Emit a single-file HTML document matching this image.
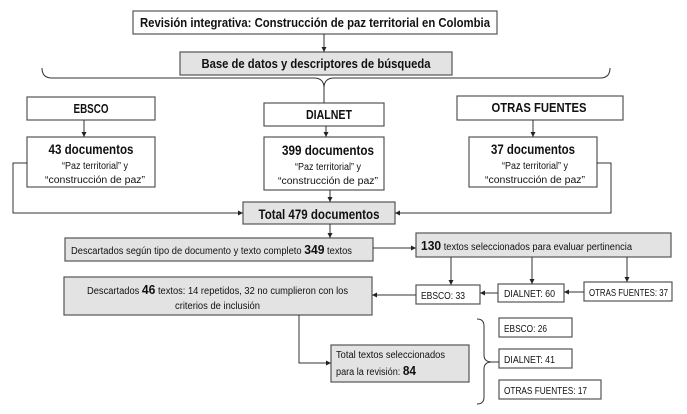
<!DOCTYPE html>
<html><head><meta charset="utf-8"><style>
html,body{margin:0;padding:0;background:#fff;}
svg{display:block;}
text{font-family:"Liberation Sans",sans-serif;fill:#111;}
</style></head><body>
<svg width="687" height="414" viewBox="0 0 687 414" xmlns="http://www.w3.org/2000/svg">
<defs><marker id="a" markerWidth="6" markerHeight="6" refX="5" refY="3" orient="auto" markerUnits="userSpaceOnUse"><path d="M0,0.5 L5,3 L0,5.5z" fill="#222"/></marker></defs>
<g stroke="#555" stroke-width="1.2">
<rect x="133" y="11" width="364" height="23" fill="#fff"/>
<rect x="180" y="52" width="272" height="23" fill="#e3e3e3"/>
<rect x="27" y="97" width="128" height="23" fill="#fff"/>
<rect x="264" y="103" width="120" height="23" fill="#fff"/>
<rect x="457" y="96" width="166" height="24" fill="#fff"/>
<rect x="27" y="137" width="128" height="50" fill="#fff"/>
<rect x="264" y="137" width="120" height="53" fill="#fff"/>
<rect x="469" y="137" width="128" height="50" fill="#fff"/>
<rect x="243" y="202" width="152" height="22" fill="#e3e3e3"/>
<rect x="65" y="238" width="308" height="23" fill="#e3e3e3"/>
<rect x="416" y="233" width="255" height="24" fill="#e3e3e3"/>
<rect x="416" y="285" width="64" height="19" fill="#fff"/>
<rect x="498" y="284" width="66" height="18" fill="#fff"/>
<rect x="584" y="282" width="88" height="19" fill="#fff"/>
<rect x="64" y="277" width="308" height="38" fill="#e3e3e3"/>
<rect x="331" y="345" width="138" height="37" fill="#e3e3e3"/>
<rect x="499" y="318" width="73" height="19" fill="#fff"/>
<rect x="499" y="349" width="73" height="19" fill="#fff"/>
<rect x="499" y="380" width="102" height="19" fill="#fff"/>
</g>
<g stroke="#333" stroke-width="1" fill="none">
<line x1="324" y1="34" x2="324" y2="52" marker-end="url(#a)"/>
<path d="M42,68 Q42,78 52,78 L314,78 Q324,78 324,88 Q324,78 334,78 L600,78 Q610,78 610,68"/>
<line x1="324" y1="88" x2="324" y2="103"/>
<line x1="84" y1="120" x2="84" y2="137" marker-end="url(#a)"/>
<line x1="326" y1="126" x2="326" y2="137" marker-end="url(#a)"/>
<line x1="533" y1="120" x2="533" y2="137" marker-end="url(#a)"/>
<path d="M27,163 L13,163 L13,213 L243,213" marker-end="url(#a)"/>
<path d="M597,163 L611,163 L611,213 L395,213" marker-end="url(#a)"/>
<line x1="330" y1="190" x2="330" y2="202" marker-end="url(#a)"/>
<line x1="330" y1="224" x2="330" y2="238" marker-end="url(#a)"/>
<line x1="373" y1="248" x2="416" y2="248" marker-end="url(#a)"/>
<line x1="451" y1="257" x2="451" y2="285" marker-end="url(#a)"/>
<line x1="532" y1="257" x2="532" y2="284" marker-end="url(#a)"/>
<line x1="627" y1="257" x2="627" y2="282" marker-end="url(#a)"/>
<line x1="584" y1="292" x2="564" y2="292" marker-end="url(#a)"/>
<line x1="498" y1="293" x2="480" y2="293" marker-end="url(#a)"/>
<line x1="416" y1="295" x2="372" y2="295" marker-end="url(#a)"/>
<path d="M299,315 L299,363 L331,363" marker-end="url(#a)"/>
<path d="M477,319 Q484,319 484,326 L484,355 Q484,362 492,362 Q484,362 484,369 L484,397 Q484,404 477,404"/>
<line x1="492" y1="362" x2="499" y2="362"/>
</g>
<g text-anchor="middle" font-weight="bold" font-size="13" lengthAdjust="spacingAndGlyphs">
<text x="315" y="27" textLength="350" lengthAdjust="spacingAndGlyphs">Revisión integrativa: Construcción de paz territorial en Colombia</text>
<text x="316" y="68" textLength="229" lengthAdjust="spacingAndGlyphs">Base de datos y descriptores de búsqueda</text>
<text x="91" y="113" textLength="35" lengthAdjust="spacingAndGlyphs">EBSCO</text>
<text x="329" y="119" textLength="46" lengthAdjust="spacingAndGlyphs">DIALNET</text>
<text x="539" y="112" textLength="95" lengthAdjust="spacingAndGlyphs">OTRAS FUENTES</text>
<text x="91" y="154" font-size="14" textLength="85" lengthAdjust="spacingAndGlyphs">43 documentos</text>
<text x="328" y="155" font-size="14" textLength="92" lengthAdjust="spacingAndGlyphs">399 documentos</text>
<text x="533" y="154" font-size="14" textLength="84" lengthAdjust="spacingAndGlyphs">37 documentos</text>
<text x="319" y="219" font-size="14" textLength="121" lengthAdjust="spacingAndGlyphs">Total 479 documentos</text>
</g>
<g text-anchor="middle" font-size="10">
<text x="95" y="169" textLength="66" lengthAdjust="spacingAndGlyphs">“Paz territorial” y</text>
<text x="95" y="183" textLength="100" lengthAdjust="spacingAndGlyphs">“construcción de paz”</text>
<text x="328" y="170" textLength="66" lengthAdjust="spacingAndGlyphs">“Paz territorial” y</text>
<text x="328" y="184" textLength="100" lengthAdjust="spacingAndGlyphs">“construcción de paz”</text>
<text x="535" y="169" textLength="66" lengthAdjust="spacingAndGlyphs">“Paz territorial” y</text>
<text x="535" y="183" textLength="100" lengthAdjust="spacingAndGlyphs">“construcción de paz”</text>
</g>
<g font-size="10">
<text x="71" y="254" textLength="281" lengthAdjust="spacingAndGlyphs">Descartados según tipo de documento y texto completo <tspan font-weight="bold" font-size="13">349</tspan> textos</text>
<text x="421" y="250" textLength="211" lengthAdjust="spacingAndGlyphs"><tspan font-weight="bold" font-size="13">130</tspan> textos seleccionados para evaluar pertinencia</text>
<text x="421" y="299" textLength="44" lengthAdjust="spacingAndGlyphs">EBSCO: 33</text>
<text x="504" y="297" textLength="51" lengthAdjust="spacingAndGlyphs">DIALNET: 60</text>
<text x="589" y="296" textLength="79" lengthAdjust="spacingAndGlyphs">OTRAS FUENTES: 37</text>
<text x="87" y="294" textLength="261" lengthAdjust="spacingAndGlyphs">Descartados <tspan font-weight="bold" font-size="13">46</tspan> textos: 14 repetidos, 32 no cumplieron con los</text>
<text x="175" y="309" textLength="85" lengthAdjust="spacingAndGlyphs">criterios de inclusión</text>
<text x="336" y="358" textLength="109" lengthAdjust="spacingAndGlyphs">Total textos seleccionados</text>
<text x="336" y="375" textLength="80" lengthAdjust="spacingAndGlyphs">para la revisión: <tspan font-weight="bold" font-size="13">84</tspan></text>
<text x="504" y="332" textLength="43" lengthAdjust="spacingAndGlyphs">EBSCO: 26</text>
<text x="504" y="363" textLength="51" lengthAdjust="spacingAndGlyphs">DIALNET: 41</text>
<text x="504" y="394" textLength="83" lengthAdjust="spacingAndGlyphs">OTRAS FUENTES: 17</text>
</g>
</svg>
</body></html>
